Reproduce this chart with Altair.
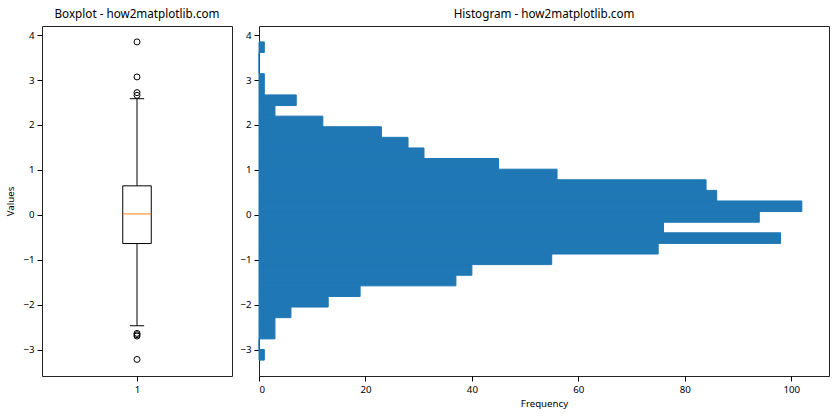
import altair as alt
import pandas as pd

# ---- data ----
bin_edges = [-3.235, -2.999, -2.763, -2.526, -2.290, -2.054, -1.818, -1.582,
             -1.346, -1.109, -0.873, -0.637, -0.401, -0.165, 0.072, 0.308,
             0.544, 0.780, 1.016, 1.253, 1.489, 1.725, 1.961, 2.197, 2.433,
             2.670, 2.906, 3.142, 3.378, 3.614, 3.850]
counts = [1, 0, 3, 3, 6, 13, 19, 37, 40, 55, 75, 98, 76, 94, 102, 86, 84, 56,
          45, 31, 28, 23, 12, 3, 7, 1, 1, 0, 0, 1]

box_q1 = -0.64
box_median = 0.02
box_q3 = 0.645
whisker_low = -2.47
whisker_high = 2.585
outliers = [3.85, 3.07, 2.72, 2.66, -2.64, -2.67, -2.70, -3.22]

y_ticks = [-3, -2, -1, 0, 1, 2, 3, 4]
x_ticks_hist = [0, 20, 40, 60, 80, 100]

FONT = "Noto Sans"
Y_DOMAIN = [-3.589, 4.204]
BOX_POS = 1
BOX_HALF = 0.075
CAP_HALF = 0.0375

hist_df = pd.DataFrame({
    "lo": bin_edges[:-1],
    "hi": bin_edges[1:],
    "count": counts,
})
hist_df["zero"] = 0

box_df = pd.DataFrame({
    "pos": [BOX_POS], "q1": [box_q1], "med": [box_median], "q3": [box_q3],
    "wlo": [whisker_low], "whi": [whisker_high],
})
out_df = pd.DataFrame({"pos": [BOX_POS] * len(outliers), "v": outliers})

yscale = alt.Scale(domain=Y_DOMAIN, nice=False, zero=False)
xbox_scale = alt.Scale(domain=[0.5, 1.5], nice=False, zero=False)

base_box = alt.Chart(box_df).transform_calculate(
    bx0=f"datum.pos - {BOX_HALF}", bx1=f"datum.pos + {BOX_HALF}",
    cx0=f"datum.pos - {CAP_HALF}", cx1=f"datum.pos + {CAP_HALF}",
)

xaxis_box = alt.Axis(values=[1], format="d", title=None)
yaxis_box = alt.Axis(values=y_ticks, format="d", title="Values")

box = base_box.mark_rect(fillOpacity=0, stroke="black", strokeWidth=1).encode(
    x=alt.X("bx0:Q", scale=xbox_scale, axis=xaxis_box),
    x2="bx1:Q",
    y=alt.Y("q1:Q", scale=yscale, axis=yaxis_box),
    y2="q3:Q",
)
median = base_box.mark_rule(color="#ff7f0e", strokeWidth=1).encode(
    x=alt.X("bx0:Q", scale=xbox_scale), x2="bx1:Q",
    y=alt.Y("med:Q", scale=yscale),
)
wh_up = base_box.mark_rule(color="black", strokeWidth=1).encode(
    x=alt.X("pos:Q", scale=xbox_scale), y=alt.Y("q3:Q", scale=yscale), y2="whi:Q"
)
wh_dn = base_box.mark_rule(color="black", strokeWidth=1).encode(
    x=alt.X("pos:Q", scale=xbox_scale), y=alt.Y("wlo:Q", scale=yscale), y2="q1:Q"
)
cap_up = base_box.mark_rule(color="black", strokeWidth=1).encode(
    x=alt.X("cx0:Q", scale=xbox_scale), x2="cx1:Q", y=alt.Y("whi:Q", scale=yscale)
)
cap_dn = base_box.mark_rule(color="black", strokeWidth=1).encode(
    x=alt.X("cx0:Q", scale=xbox_scale), x2="cx1:Q", y=alt.Y("wlo:Q", scale=yscale)
)
pts = alt.Chart(out_df).mark_point(
    shape="circle", filled=False, color="black", size=36, strokeWidth=1, opacity=1
).encode(
    x=alt.X("pos:Q", scale=xbox_scale),
    y=alt.Y("v:Q", scale=yscale),
)

left = alt.layer(box, wh_up, wh_dn, cap_up, cap_dn, median, pts).properties(
    width=190, height=350,
    title=alt.TitleParams("Boxplot - how2matplotlib.com", fontSize=11.7,
                          fontWeight="normal", font=FONT, color="black",
                          offset=5, anchor="middle"),
)

right = alt.Chart(hist_df).mark_rect(
    color="#1f77b4", stroke="#1f77b4", strokeWidth=1
).encode(
    x=alt.X("zero:Q", scale=alt.Scale(domain=[0, 107.1], nice=False),
            axis=alt.Axis(values=x_ticks_hist, format="d", title="Frequency",
                          titlePadding=5)),
    x2="count:Q",
    y=alt.Y("lo:Q", scale=yscale, axis=alt.Axis(values=y_ticks, format="d", title=None)),
    y2="hi:Q",
).properties(
    width=570, height=350,
    title=alt.TitleParams("Histogram - how2matplotlib.com", fontSize=11.7,
                          fontWeight="normal", font=FONT, color="black",
                          offset=5, anchor="middle"),
)

chart = alt.hconcat(left, right, spacing=6).properties(
    padding={"left": 5, "top": 8, "right": 5, "bottom": 5},
    background="white",
).configure_view(
    stroke="#222222", strokeWidth=1,
).configure_axis(
    labelFont=FONT, labelFontSize=9.7, labelColor="black",
    titleFont=FONT, titleFontSize=9.7, titleColor="black", titleFontWeight="normal",
    tickColor="black", tickSize=5, tickWidth=1, labelPadding=3,
    domain=False, grid=False, titlePadding=7,
)

chart.save("out.html", embed_options={"renderer": "svg", "actions": False})
